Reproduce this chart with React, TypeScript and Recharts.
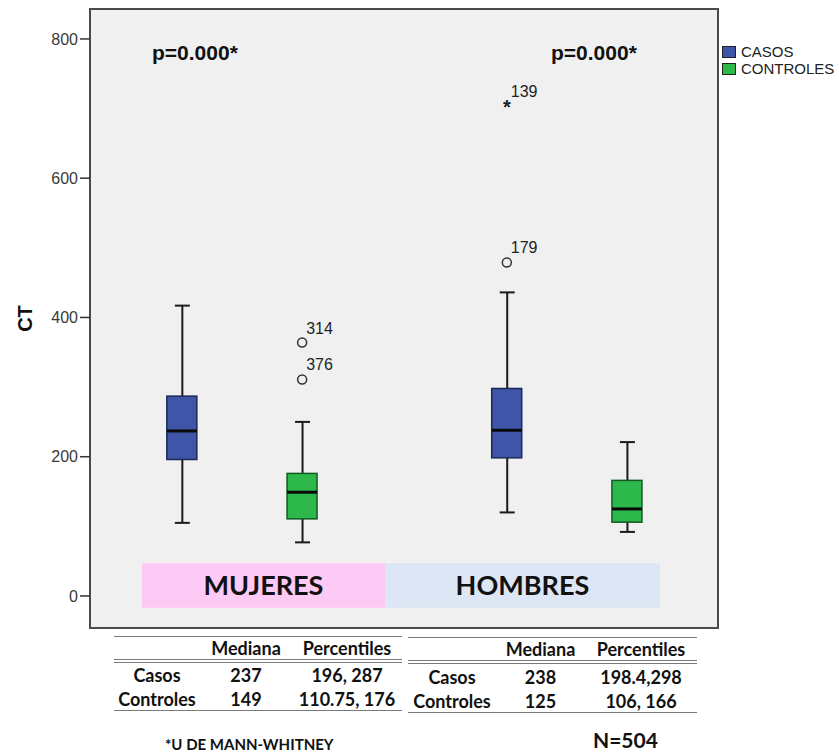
import React from 'react';
import { ComposedChart, Bar, Scatter, XAxis, YAxis, CartesianGrid, ReferenceArea } from 'recharts';

const groups = ['MUJERES', 'HOMBRES'];
const seriesNames = ['CASOS', 'CONTROLES'];
const seriesColors = ['#3f56a8', '#2db84b'];
const seriesEdges = ['#1b2757', '#125a24'];

// one entry per box: MUJERES-CASOS, MUJERES-CONTROLES, HOMBRES-CASOS, HOMBRES-CONTROLES
const whiskerLow = [105, 77, 120, 92];
const q1 = [196, 110.75, 198.4, 106];
const medians = [237, 149, 238, 125];
const q3 = [287, 176, 298, 166];
const whiskerHigh = [417, 250, 436, 221];

// outliers: box index, value, case number, extreme (*) or not (o)
const outlierBox = [1, 1, 2, 2];
const outlierValues = [364, 311, 479, 703];
const outlierIds = ['314', '376', '179', '139'];
const outlierExtreme = [false, false, false, true];

const yTicks = [0, 200, 400, 600, 800];
const pLabels = ['p=0.000*', 'p=0.000*'];

const tableHead = ['', 'Mediana', 'Percentiles'];
const mujeresTable = [
  ['Casos', '237', '196, 287'],
  ['Controles', '149', '110.75, 176'],
];
const hombresTable = [
  ['Casos', '238', '198.4,298'],
  ['Controles', '125', '106, 166'],
];

const DODGE = 0.185;
const X_DOMAIN: [number, number] = [-0.468, 1.465];
const Y_DOMAIN: [number, number] = [-46, 843];

const boxPos = (i: number) => Math.floor(i / 2) + (i % 2 === 0 ? -DODGE : DODGE);

const boxRows = medians.map((m, i) => ({
  x: boxPos(i),
  series: i % 2,
  whisker: [whiskerLow[i], whiskerHigh[i]],
  box: [q1[i], q3[i]],
  median: m,
}));

const outlierRows = outlierValues.map((v, i) => ({
  x: boxPos(outlierBox[i]),
  value: v,
  id: outlierIds[i],
  extreme: outlierExtreme[i],
}));

const WhiskerShape = (props: any) => {
  const { x, y, width, height } = props;
  const top = Math.min(y, y + height);
  const bottom = Math.max(y, y + height);
  const cx = x + width / 2;
  return (
    <g stroke="#1a1a1a" strokeWidth={2}>
      <line x1={cx} y1={top} x2={cx} y2={bottom} />
      <line x1={x} y1={top} x2={x + width} y2={top} />
      <line x1={x} y1={bottom} x2={x + width} y2={bottom} />
    </g>
  );
};

const BoxShape = (props: any) => {
  const { x, y, width, height, payload } = props;
  const top = Math.min(y, y + height);
  const h = Math.abs(height);
  return (
    <rect
      x={x}
      y={top}
      width={width}
      height={h}
      fill={seriesColors[payload.series]}
      stroke={seriesEdges[payload.series]}
      strokeWidth={1.5}
    />
  );
};

const MedianShape = (props: any) => {
  const { cx, cy } = props;
  return <line x1={cx - 15} y1={cy} x2={cx + 15} y2={cy} stroke="#0a0a0a" strokeWidth={3} />;
};

const OutlierShape = (props: any) => {
  const { cx, cy, payload } = props;
  return (
    <g>
      {payload.extreme ? (
        <text x={cx} y={cy + 8} textAnchor="middle" fontSize={20} fontWeight={700} fill="#222" fontFamily="Liberation Sans">
          *
        </text>
      ) : (
        <circle cx={cx} cy={cy} r={4.5} fill="none" stroke="#333" strokeWidth={1.5} />
      )}
      <text x={cx + 4} y={cy - 9} fontSize={16} fill="#222" fontFamily="Liberation Sans">
        {payload.id}
      </text>
    </g>
  );
};

const StatsTable = ({ left, top, cols, rows, heights }: any) => {
  const line = '1.5px solid #7a7a7a';
  const renderRow = (cells: string[], h: number, extra: any) => (
    <div style={{ display: 'flex', height: h, alignItems: 'center', ...extra }}>
      {cells.map((c, k) => (
        <div key={k} style={{ width: cols[k], textAlign: 'center' }}>
          {c}
        </div>
      ))}
    </div>
  );
  return (
    <div
      style={{
        position: 'absolute',
        left,
        top,
        borderTop: line,
        borderBottom: line,
        fontFamily: 'Lato',
        fontWeight: 700,
        fontSize: 18,
        color: '#111',
        lineHeight: 1,
      }}
    >
      {renderRow(tableHead, heights[0], { borderBottom: '4px double #7a7a7a' })}
      {rows.map((r: string[], k: number) => (
        <React.Fragment key={k}>{renderRow(r, heights[k + 1], {})}</React.Fragment>
      ))}
    </div>
  );
};

const App = () => {
  return (
    <div style={{ position: 'absolute', left: 0, top: 0, width: 839, height: 753, background: '#fff' }}>
      <ComposedChart
        width={839}
        height={753}
        data={boxRows}
        margin={{ top: 9, right: 121, bottom: 125, left: 0 }}
      >
        <CartesianGrid xAxisId="box" horizontal={false} vertical={false} fill="#f0f0f0" />
        <XAxis xAxisId="whisker" type="number" dataKey="x" domain={X_DOMAIN} allowDataOverflow hide />
        <XAxis xAxisId="box" type="number" dataKey="x" domain={X_DOMAIN} allowDataOverflow hide />
        <YAxis
          type="number"
          domain={Y_DOMAIN}
          ticks={yTicks}
          allowDataOverflow
          width={90}
          axisLine={false}
          tickSize={10}
          tickMargin={2}
          tickLine={{ stroke: '#333', strokeWidth: 1.5 }}
          tick={{ fontSize: 16, fill: '#3a3a3a', fontFamily: 'Liberation Sans' }}
          label={{
            value: 'CT',
            content: (p: any) => (
              <text
                x={0}
                y={0}
                transform={`translate(32, ${p.viewBox.y + p.viewBox.height / 2}) rotate(-90)`}
                textAnchor="middle"
                fontSize={20}
                fontWeight={700}
                fill="#111"
                fontFamily="Liberation Sans"
              >
                CT
              </text>
            ),
          }}
        />
        <ReferenceArea
          xAxisId="box"
          x1={-0.308}
          x2={0.44}
          y1={-17}
          y2={47}
          fill="#fccaf5"
          fillOpacity={1}
          stroke="none"
          label={{ value: groups[0], position: 'center', fontSize: 27, fontWeight: 700, fill: '#111', fontFamily: 'Lato' }}
        />
        <ReferenceArea
          xAxisId="box"
          x1={0.44}
          x2={1.286}
          y1={-17}
          y2={47}
          fill="#dce6f4"
          fillOpacity={1}
          stroke="none"
          label={{ value: groups[1], position: 'center', fontSize: 27, fontWeight: 700, fill: '#111', fontFamily: 'Lato' }}
        />
        <Bar xAxisId="whisker" dataKey="whisker" barSize={15} shape={WhiskerShape} isAnimationActive={false} />
        <Bar xAxisId="box" dataKey="box" barSize={30} shape={BoxShape} isAnimationActive={false} />
        <Scatter xAxisId="box" dataKey="median" shape={MedianShape} isAnimationActive={false} />
        <Scatter xAxisId="box" data={outlierRows} dataKey="value" shape={OutlierShape} isAnimationActive={false} />
        <ReferenceArea
          xAxisId="box"
          x1={X_DOMAIN[0]}
          x2={X_DOMAIN[1]}
          y1={Y_DOMAIN[0]}
          y2={Y_DOMAIN[1]}
          ifOverflow="visible"
          fill="none"
          stroke="#4a4a4a"
          strokeWidth={2}
        />
      </ComposedChart>

      {pLabels.map((p, i) => (
        <div
          key={i}
          style={{
            position: 'absolute',
            left: i === 0 ? 152 : 551,
            top: 42,
            fontFamily: 'Liberation Sans',
            fontWeight: 700,
            fontSize: 21,
            lineHeight: '21px',
            color: '#111',
          }}
        >
          {p}
        </div>
      ))}

      {seriesNames.map((s, i) => (
        <div
          key={s}
          style={{
            position: 'absolute',
            left: 722,
            top: 45 + i * 17,
            display: 'flex',
            alignItems: 'center',
            fontFamily: 'Liberation Sans',
            fontSize: 15,
            color: '#222',
            lineHeight: '14px',
          }}
        >
          <span
            style={{
              width: 14,
              height: 12,
              background: seriesColors[i],
              border: '1px solid #222',
              boxSizing: 'border-box',
              marginRight: 5,
            }}
          />
          {s}
        </div>
      ))}

      <StatsTable left={114} top={636} cols={[86, 92, 110]} rows={mujeresTable} heights={[22, 24, 23]} />
      <StatsTable left={408} top={637} cols={[88, 89, 112]} rows={hombresTable} heights={[22, 25, 23]} />

      <div
        style={{
          position: 'absolute',
          left: 165,
          top: 736,
          fontFamily: 'Lato',
          fontWeight: 700,
          fontSize: 15,
          lineHeight: '17px',
          color: '#111',
        }}
      >
        *U DE MANN-WHITNEY
      </div>
      <div
        style={{
          position: 'absolute',
          left: 593,
          top: 728,
          fontFamily: 'Lato',
          fontWeight: 700,
          fontSize: 21,
          lineHeight: '24px',
          color: '#111',
        }}
      >
        N=504
      </div>
    </div>
  );
};

export default App;
